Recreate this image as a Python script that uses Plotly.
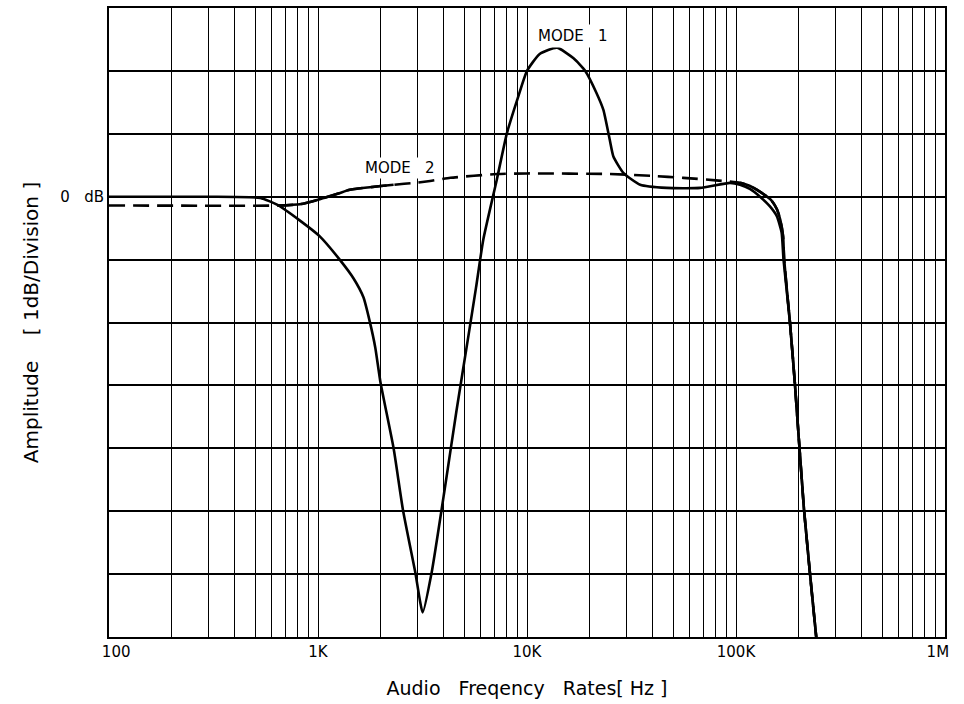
import numpy as np
import plotly.graph_objects as go

# ---- data ----
mode1_freq = [100, 300, 530, 640, 820, 1020, 1270, 1480, 1650, 1770, 1880, 1990,
              2300, 2550, 2920, 3170, 3500, 4060, 4600, 5240, 5700, 6180, 7170,
              8000, 9000, 10000, 11500, 13900, 16700, 19000, 21500, 23200, 24900,
              25900, 28900, 34800, 46600, 67300, 93600, 104500, 117000, 130300,
              145000, 156800, 165300, 168800, 181200, 191400, 211500, 241700, 255000]
mode1_db = [0, 0, -0.02, -0.13, -0.38, -0.63, -1.0, -1.3, -1.6, -1.99, -2.4, -2.95,
            -4.0, -4.98, -5.97, -6.61, -5.97, -4.6, -3.4, -2.22, -1.45, -0.68, 0.27,
            1.0, 1.55, 2.0, 2.27, 2.37, 2.2, 2.0, 1.65, 1.38, 0.9,
            0.64, 0.38, 0.19, 0.14, 0.14, 0.22, 0.19, 0.12, 0.0,
            -0.15, -0.31, -0.57, -1.0, -2.0, -2.98, -4.97, -6.98, -7.6]

mode2_freq = [100, 640, 820, 1020, 1250, 1420, 2000, 2300, 2900, 3440, 4300, 7200,
              10000, 25000, 40000, 56000, 80000, 104500, 116700, 130000, 147000,
              157000, 163000, 168000, 170000, 181200, 191400, 211500, 241700, 255000]
mode2_db = [-0.14, -0.14, -0.12, -0.04, 0.05, 0.11, 0.17, 0.19, 0.22, 0.25, 0.30, 0.36,
            0.37, 0.36, 0.33, 0.30, 0.26, 0.22, 0.17, 0.08, -0.05,
            -0.2, -0.37, -0.63, -1.0, -2.0, -2.98, -4.97, -6.98, -7.6]
# frequency spans where the MODE 2 trace is drawn as a continuous stroke
mode2_solid_spans = [(640, 2300), (104500, 255000)]

decades = [100, 1e3, 1e4, 1e5, 1e6]
decade_labels = ["   100", "1K", "10K", "100K", "1M   "]
db_ticks = list(range(-7, 4))
db_labels = ["0   dB" if v == 0 else "" for v in db_ticks]

FONT = "DejaVu Sans"

# grid positions: every 1..9 multiple in each decade
grid_vals = []
for e in range(2, 6):
    for m in range(1, 10):
        grid_vals.append(m * 10 ** e)
grid_vals.append(1e6)
grid_text = [decade_labels[decades.index(v)] if v in decades else "" for v in grid_vals]

LINE_W = 2.6
fig = go.Figure()

fig.add_trace(go.Scatter(x=mode2_freq, y=mode2_db, mode="lines",
                         line=dict(color="black", width=LINE_W, dash="16px,8px",
                                   shape="spline", smoothing=0.5),
                         showlegend=False, hoverinfo="skip"))
m2f = np.array(mode2_freq, dtype=float)
m2d = np.array(mode2_db, dtype=float)
for lo, hi in mode2_solid_spans:
    sel = (m2f >= lo) & (m2f <= hi)
    fig.add_trace(go.Scatter(x=m2f[sel], y=m2d[sel], mode="lines",
                             line=dict(color="black", width=LINE_W,
                                       shape="spline", smoothing=0.5),
                             showlegend=False, hoverinfo="skip"))

fig.add_trace(go.Scatter(x=mode1_freq, y=mode1_db, mode="lines",
                         line=dict(color="black", width=LINE_W,
                                   shape="spline", smoothing=0.5),
                         showlegend=False, hoverinfo="skip"))

fig.add_annotation(x=np.log10(16600), y=2.56, text="MODE   1", showarrow=False,
                   font=dict(family=FONT, size=15, color="black"),
                   bgcolor="white", borderpad=2)
fig.add_annotation(x=np.log10(2455), y=0.46, text="MODE   2", showarrow=False,
                   font=dict(family=FONT, size=15, color="black"),
                   bgcolor="white", borderpad=1)

fig.update_layout(
    width=964, height=704,
    margin=dict(l=109, r=19, t=8, b=67),
    paper_bgcolor="white", plot_bgcolor="white",
    font=dict(family=FONT, size=15, color="black"),
    xaxis=dict(
        type="log", range=[2, 6], automargin=False,
        tickmode="array", tickvals=grid_vals, ticktext=grid_text,
        ticks="", showgrid=True, gridcolor="black", gridwidth=1.2,
        showline=True, linecolor="black", linewidth=2, mirror=True,
        zeroline=False, tickfont=dict(size=15),
        title=dict(text="Audio   Freqency   Rates[ Hz ]", standoff=22,
                   font=dict(size=19)),
    ),
    yaxis=dict(
        range=[-7, 3], automargin=False,
        tickmode="array", tickvals=db_ticks, ticktext=db_labels,
        ticks="", showgrid=True, gridcolor="black", gridwidth=2,
        showline=True, linecolor="black", linewidth=2, mirror=True,
        zeroline=False, tickfont=dict(size=15),
        title=dict(text="  Amplitude    [ 1dB/Division ]", standoff=16,
                   font=dict(size=20)),
    ),
)

fig.write_html("out.html",
               config={"displayModeBar": False},
               post_script="document.body.style.margin='0px';"
                           "document.body.style.padding='0px';")
